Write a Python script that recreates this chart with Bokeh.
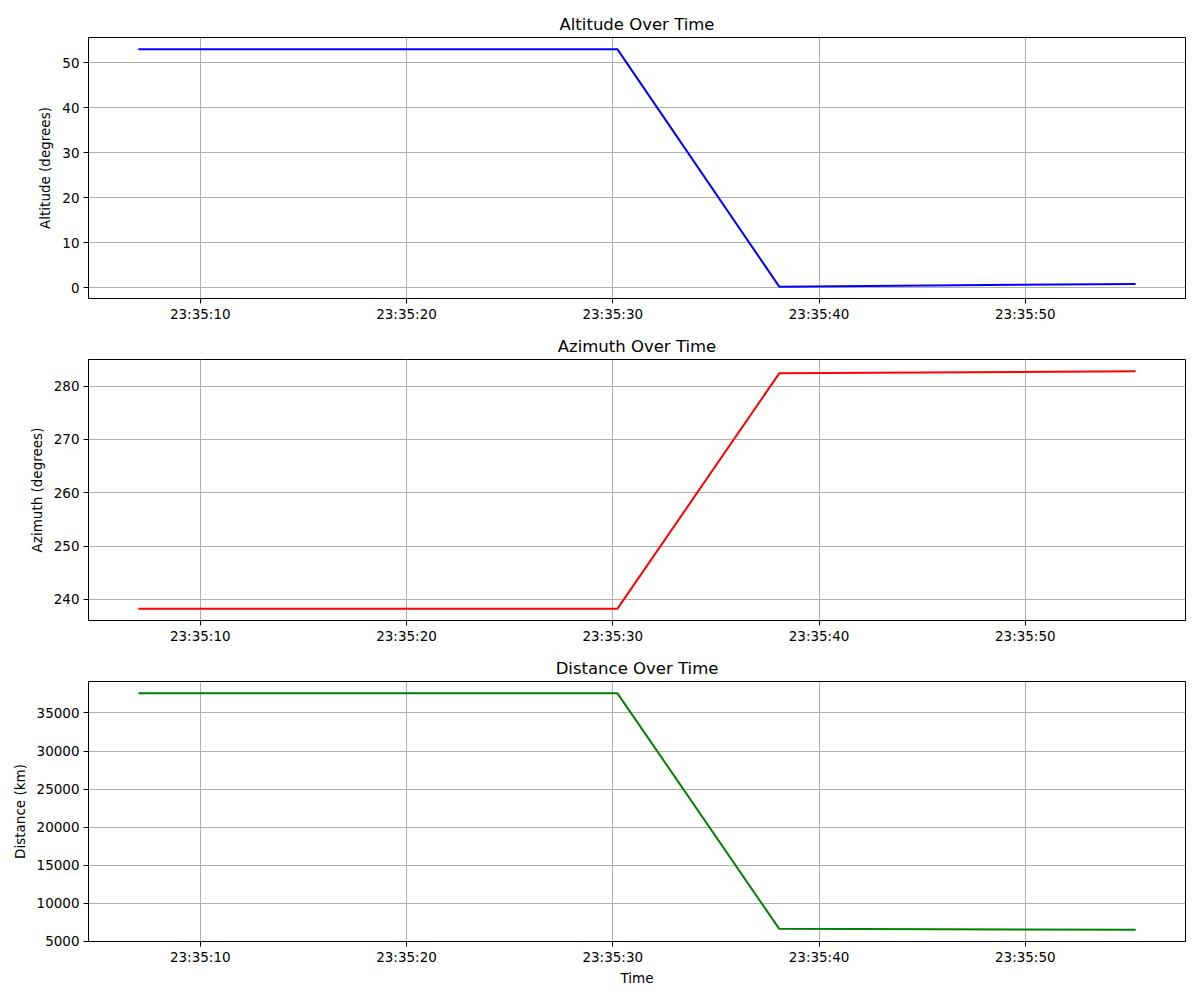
import pandas as pd
from bokeh.plotting import figure
from bokeh.layouts import column
from bokeh.models import DatetimeTickFormatter, SingleIntervalTicker
from bokeh.embed import file_html
from bokeh.resources import INLINE

# ---- data ----
times = ["2024-01-01 23:35:07.00", "2024-01-01 23:35:30.23",
         "2024-01-01 23:35:38.07", "2024-01-01 23:35:55.35"]
altitude = [52.95, 52.95, 0.29, 0.89]
azimuth = [238.26, 238.26, 282.40, 282.77]
distance = [37573, 37573, 6657, 6545]

titles = ["Altitude Over Time", "Azimuth Over Time", "Distance Over Time"]
ylabels = ["Altitude (degrees)", "Azimuth (degrees)", "Distance (km)"]
colors = ["#0000ff", "#ff0000", "#008000"]
y_intervals = [10, 10, 5000]
series = [altitude, azimuth, distance]

t = pd.to_datetime(times)

FONT = "DejaVu Sans"
fmt = "%H:%M:%S"

figs = []
for i in range(3):
    first = (i == 0)
    last = (i == 2)
    p = figure(x_axis_type="datetime", output_backend="svg", toolbar_location=None,
               frame_width=1097, frame_height=(260 if last else 261),
               min_border_left=88, min_border_right=7,
               min_border_top=(37 if first else 29), min_border_bottom=(51 if last else 32),
               background_fill_color="white", border_fill_color="white")
    p.line(t, series[i], line_color=colors[i], line_width=2)

    p.title.text = titles[i]
    p.title.align = "center"
    p.title.text_font = FONT
    p.title.text_font_size = "16.5px"
    p.title.text_font_style = "normal"
    p.title.text_color = "black"
    p.title.standoff = 8

    p.outline_line_color = "black"
    p.outline_line_width = 1
    p.outline_line_alpha = 1

    p.xaxis.ticker = SingleIntervalTicker(interval=10000, num_minor_ticks=0)
    p.xaxis.formatter = DatetimeTickFormatter(
        milliseconds=fmt, seconds=fmt, minsec=fmt, minutes=fmt,
        hourmin=fmt, hours=fmt, days=fmt)
    p.yaxis.ticker = SingleIntervalTicker(interval=y_intervals[i], num_minor_ticks=0)

    for ax in (p.xaxis[0], p.yaxis[0]):
        ax.axis_line_color = "black"
        ax.axis_line_width = 1
        ax.major_tick_line_color = "black"
        ax.major_tick_out = 5
        ax.major_tick_in = 0
        ax.minor_tick_line_color = None
        ax.major_label_text_font = FONT
        ax.major_label_text_font_size = "13.5px"
        ax.major_label_text_color = "black"
        ax.axis_label_text_font = FONT
        ax.axis_label_text_font_size = "13.5px"
        ax.axis_label_text_font_style = "normal"
        ax.axis_label_text_color = "black"
    p.xaxis.major_label_standoff = 2
    p.xaxis.axis_label_standoff = 2
    p.yaxis.major_label_standoff = 4
    p.yaxis.axis_label_standoff = 6

    p.yaxis.axis_label = ylabels[i]
    if last:
        p.xaxis.axis_label = "Time"

    p.xgrid.grid_line_color = "#b0b0b0"
    p.ygrid.grid_line_color = "#b0b0b0"
    p.xgrid.grid_line_width = 1
    p.ygrid.grid_line_width = 1
    figs.append(p)

layout = column(*figs, spacing=0)
open("out.html", "w").write(file_html(layout, INLINE))
